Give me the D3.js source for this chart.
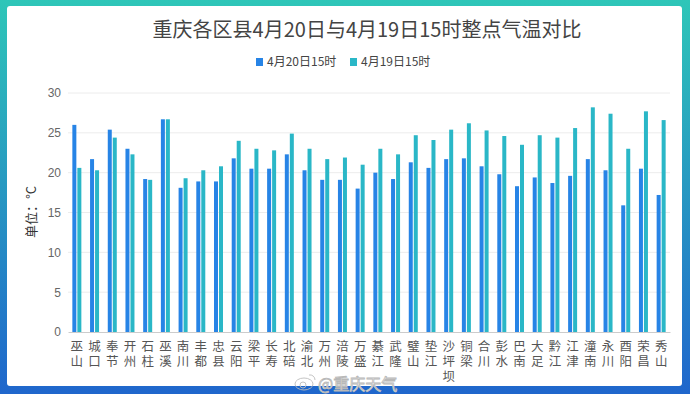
<!DOCTYPE html>
<html>
<head>
<meta charset="utf-8">
<script src="https://cdn.jsdelivr.net/npm/d3@7"></script>
<style>
  html, body { margin: 0; padding: 0; background: #fff; }
  svg { display: block; font-family: "Noto Sans CJK SC", "Noto Sans", sans-serif; }
  .grid line { stroke: #ececec; }
  .y-axis text { fill: #666; font-size: 12px; }
  .x-label { fill: #555; font-size: 12.5px; writing-mode: vertical-rl; letter-spacing: 2.5px; }
</style>
</head>
<body>
<div id="chart"></div>
<script>
var width = 690, height = 394;

// data
var districts = ["巫山", "城口", "奉节", "开州", "石柱", "巫溪", "南川", "丰都", "忠县", "云阳",
  "梁平", "长寿", "北碚", "渝北", "万州", "涪陵", "万盛", "綦江", "武隆", "璧山",
  "垫江", "沙坪坝", "铜梁", "合川", "彭水", "巴南", "大足", "黔江", "江津", "潼南",
  "永川", "酉阳", "荣昌", "秀山"];
var temp20 = [26.0, 21.7, 25.4, 23.0, 19.2, 26.7, 18.1, 18.9, 18.9, 21.8,
  20.5, 20.5, 22.3, 20.3, 19.1, 19.1, 18.0, 20.0, 19.2, 21.3,
  20.6, 21.7, 21.8, 20.8, 19.8, 18.3, 19.4, 18.7, 19.6, 21.7,
  20.3, 15.9, 20.5, 17.2];
var temp19 = [20.6, 20.3, 24.4, 22.3, 19.1, 26.7, 19.3, 20.3, 20.8, 24.0,
  23.0, 22.8, 24.9, 23.0, 21.7, 21.9, 21.0, 23.0, 22.3, 24.7,
  24.1, 25.4, 26.2, 25.3, 24.6, 23.5, 24.7, 24.4, 25.6, 28.2,
  27.4, 23.0, 27.7, 26.6];
var seriesNames = ["4月20日15时", "4月19日15时"];
var colors = ["#2784e6", "#2ab7c7"];
var yTicks = [0, 5, 10, 15, 20, 25, 30];

var svg = d3.select("#chart").append("svg")
  .attr("width", width)
  .attr("height", height);

// frame with gradient border
var defs = svg.append("defs");
var grad = defs.append("linearGradient")
  .attr("id", "frame")
  .attr("x1", 0).attr("y1", 0).attr("x2", 0).attr("y2", 1);
grad.append("stop").attr("offset", "0%").attr("stop-color", "#2ec6b8");
grad.append("stop").attr("offset", "100%").attr("stop-color", "#1f66cc");

svg.append("rect")
  .attr("width", width).attr("height", height)
  .attr("fill", "url(#frame)");
svg.append("rect")
  .attr("x", 7).attr("y", 6)
  .attr("width", width - 15).attr("height", height - 14)
  .attr("rx", 3)
  .attr("fill", "#fff");

var x = d3.scaleBand()
  .domain(districts)
  .range([68, 670]);

var y = d3.scaleLinear()
  .domain([0, 30])
  .range([332, 93]);

// grid
svg.append("g")
  .attr("class", "grid")
  .selectAll("line")
  .data(yTicks.slice(1))
  .enter().append("line")
    .attr("x1", 68).attr("x2", 670)
    .attr("y1", function(d) { return y(d); })
    .attr("y2", function(d) { return y(d); });

// y axis
var yAxis = svg.append("g")
  .attr("class", "y-axis")
  .attr("transform", "translate(68,0)")
  .call(d3.axisLeft(y).tickValues(yTicks).tickSize(0).tickPadding(7));
yAxis.select(".domain").remove();

svg.append("text")
  .attr("transform", "translate(31,212) rotate(-90)")
  .attr("text-anchor", "middle")
  .attr("dy", "0.35em")
  .attr("fill", "#333")
  .style("font-size", "13px")
  .text("单位：°C");

// bars
var series = [temp20, temp19];
series.forEach(function(vals, i) {
  svg.append("g")
    .selectAll("rect")
    .data(vals)
    .enter().append("rect")
      .attr("x", function(d, j) { return x(districts[j]) + x.bandwidth() / 2 - 4.5 + i * 5; })
      .attr("width", 4)
      .attr("y", function(d) { return y(d); })
      .attr("height", function(d) { return y(0) - y(d); })
      .attr("fill", colors[i]);
});

// x axis: baseline plus vertical labels
var xAxis = svg.append("g")
  .attr("transform", "translate(0,332)")
  .call(d3.axisBottom(x).tickSize(0).tickFormat(""));
xAxis.select(".domain").attr("stroke", "#ccc");

svg.append("g")
  .selectAll("text")
  .data(districts)
  .enter().append("text")
    .attr("class", "x-label")
    .attr("x", function(d) { return x(d) + x.bandwidth() / 2; })
    .attr("y", 340)
    .text(function(d) { return d; });

// title
svg.append("text")
  .attr("x", 367).attr("y", 37)
  .attr("text-anchor", "middle")
  .attr("fill", "#444")
  .style("font-size", "20px")
  .text("重庆各区县4月20日与4月19日15时整点气温对比");

// legend
var legend = svg.append("g")
  .selectAll("g")
  .data(seriesNames)
  .enter().append("g")
    .attr("transform", function(d, i) { return "translate(" + (256 + i * 94) + ",58)"; });

legend.append("rect")
  .attr("width", 7).attr("height", 8)
  .attr("fill", function(d, i) { return colors[i]; });

legend.append("text")
  .attr("x", 11).attr("y", 4)
  .attr("dy", "0.35em")
  .attr("fill", "#444")
  .style("font-size", "12px")
  .text(function(d) { return d; });

// watermark
var wm = svg.append("g").attr("fill", "none").attr("stroke", "#bdbdbd").attr("stroke-width", 0.9);
wm.append("ellipse").attr("cx", 304).attr("cy", 384).attr("rx", 9).attr("ry", 6);
wm.append("circle").attr("cx", 303).attr("cy", 385).attr("r", 3);
wm.append("path").attr("d", "M309,375 a5,5 0 0 1 6,5");
svg.append("text")
  .attr("x", 318).attr("y", 390)
  .attr("fill", "#fff")
  .attr("stroke", "#b8b8b8")
  .attr("stroke-width", 0.8)
  .style("font-size", "16px")
  .text("@重庆天气");
</script>
</body>
</html>
